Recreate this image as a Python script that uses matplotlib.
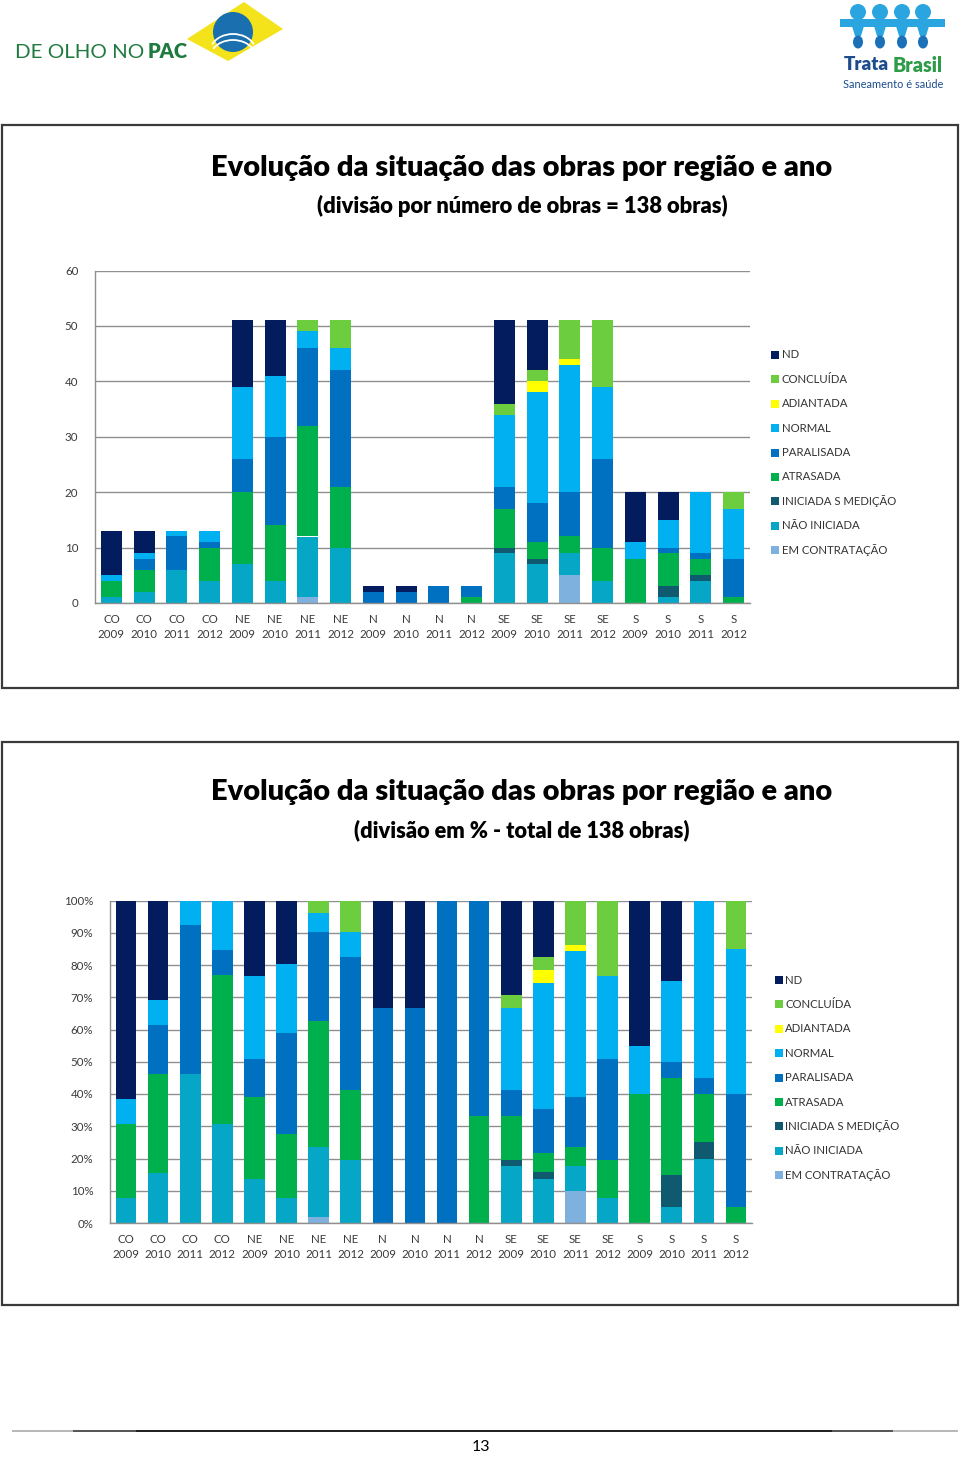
import matplotlib
matplotlib.use("Agg")
import matplotlib.pyplot as plt
import numpy as np
from matplotlib.patches import Rectangle, Polygon, Circle, Ellipse, Arc

# ---------------- data ----------------
categories = ["CO\n2009", "CO\n2010", "CO\n2011", "CO\n2012",
              "NE\n2009", "NE\n2010", "NE\n2011", "NE\n2012",
              "N\n2009", "N\n2010", "N\n2011", "N\n2012",
              "SE\n2009", "SE\n2010", "SE\n2011", "SE\n2012",
              "S\n2009", "S\n2010", "S\n2011", "S\n2012"]

# stacked bottom -> top
series_names = ["EM CONTRATAÇÃO", "NÃO INICIADA", "INICIADA S MEDIÇÃO", "ATRASADA",
                "PARALISADA", "NORMAL", "ADIANTADA", "CONCLUÍDA", "ND"]

em_contratacao = [0, 0, 0, 0, 0, 0, 1, 0, 0, 0, 0, 0, 0, 0, 5, 0, 0, 0, 0, 0]
nao_iniciada   = [1, 2, 6, 4, 7, 4, 11, 10, 0, 0, 0, 0, 9, 7, 4, 4, 0, 1, 4, 0]
iniciada_s_med = [0, 0, 0, 0, 0, 0, 0, 0, 0, 0, 0, 0, 1, 1, 0, 0, 0, 2, 1, 0]
atrasada       = [3, 4, 0, 6, 13, 10, 20, 11, 0, 0, 0, 1, 7, 3, 3, 6, 8, 6, 3, 1]
paralisada     = [0, 2, 6, 1, 6, 16, 14, 21, 2, 2, 3, 2, 4, 7, 8, 16, 0, 1, 1, 7]
normal         = [1, 1, 1, 2, 13, 11, 3, 4, 0, 0, 0, 0, 13, 20, 23, 13, 3, 5, 11, 9]
adiantada      = [0, 0, 0, 0, 0, 0, 0, 0, 0, 0, 0, 0, 0, 2, 1, 0, 0, 0, 0, 0]
concluida      = [0, 0, 0, 0, 0, 0, 2, 5, 0, 0, 0, 0, 2, 2, 7, 12, 0, 0, 0, 3]
nd             = [8, 4, 0, 0, 12, 10, 0, 0, 1, 1, 0, 0, 15, 9, 0, 0, 9, 5, 0, 0]

series_values = [em_contratacao, nao_iniciada, iniciada_s_med, atrasada,
                 paralisada, normal, adiantada, concluida, nd]

count_ticks = [0, 10, 20, 30, 40, 50, 60]
pct_ticks = [0, 10, 20, 30, 40, 50, 60, 70, 80, 90, 100]

colors = {
    "EM CONTRATAÇÃO": "#7fb1df",
    "NÃO INICIADA": "#06a7c6",
    "INICIADA S MEDIÇÃO": "#0f5a6e",
    "ATRASADA": "#00b04c",
    "PARALISADA": "#0070c0",
    "NORMAL": "#00b0f0",
    "ADIANTADA": "#ffff00",
    "CONCLUÍDA": "#6ccd3e",
    "ND": "#031c5e",
}

# ---------------- figure ----------------
W, H = 960, 1457
fig = plt.figure(figsize=(W / 100, H / 100), dpi=100)
fig.patch.set_facecolor("white")
bg = fig.add_axes([0, 0, 1, 1], zorder=0)
bg.set_xlim(0, W)
bg.set_ylim(H, 0)
bg.axis("off")

FONT = ["Lato", "DejaVu Sans"]
renderer = fig.canvas.get_renderer()


def fit_text(x, y, s, width, fs0=12, **kw):
    t = bg.text(x, y, s, fontsize=fs0, family=FONT, **kw)
    w = t.get_window_extent(renderer).width
    t.set_fontsize(fs0 * width / w)
    return t


def px_axes(left, top, right, bottom):
    return fig.add_axes([left / W, 1 - bottom / H, (right - left) / W, (bottom - top) / H], zorder=2)


# ---------- logos ----------
fit_text(15, 52, "DE OLHO NO", 128, color="#1f7a3f", va="center", ha="left")
fit_text(148, 52, "PAC", 40, color="#1f7a3f", va="center", ha="left", weight="heavy")
bg.add_patch(Polygon([(187, 39), (244, 2), (283, 29), (228, 61)], closed=True,
                     fc="#f4e21a", ec="none"))
bg.add_patch(Circle((233, 32), 20, fc="#1a6fae", ec="none"))
bg.add_patch(Arc((233, 52), 46, 36, theta1=200, theta2=340, color="white", lw=1.3))
bg.add_patch(Arc((233, 58), 46, 36, theta1=205, theta2=335, color="white", lw=1.3))

for cx in [858, 880, 902, 923]:
    bg.add_patch(Circle((cx, 12), 8, fc="#2aa5df", ec="none"))
    bg.add_patch(Polygon([(cx - 6, 26), (cx + 6, 26), (cx + 3, 36), (cx - 3, 36)],
                         closed=True, fc="#2aa5df", ec="none"))
    bg.add_patch(Ellipse((cx, 42), 10, 13, fc="#1b70b8", ec="none"))
bg.add_patch(Rectangle((840, 19), 105, 8, fc="#2aa5df", ec="none"))
fit_text(844, 65, "Trata", 45, color="#1c4c8c", va="center", ha="left", weight="heavy")
fit_text(893, 65, "Brasil", 50, color="#2d9b47", va="center", ha="left", weight="heavy")
fit_text(843, 84, "Saneamento é saúde", 100, color="#1c4c8c", va="center", ha="left")

# ---------- panel frames ----------
for top, bottom in [(125, 688), (742, 1305)]:
    bg.add_patch(Rectangle((2, top), 956, bottom - top, fill=False, ec="#3a3a3a", lw=1.6))

# ---------- titles ----------
title = "Evolução da situação das obras por região e ano"
fit_text(522, 168, title, 620, ha="center", va="center", weight="heavy", color="black")
fit_text(522, 206, "(divisão por número de obras = 138 obras)", 411,
         ha="center", va="center", weight="heavy", color="black")
fit_text(522, 792, title, 620, ha="center", va="center", weight="heavy", color="black")
fit_text(522, 830, "(divisão em % - total de 138 obras)", 335,
         ha="center", va="center", weight="heavy", color="black")

# ---------- charts ----------
x = np.arange(len(categories))
totals = np.sum(np.array(series_values, dtype=float), axis=0)


def style_axes(ax, ticks, labels, ymax):
    ax.set_xlim(-0.5, len(categories) - 0.5)
    ax.set_ylim(0, ymax)
    ax.set_yticks(ticks)
    ax.set_yticklabels(labels, family=FONT)
    ax.set_xticks(x)
    ax.set_xticklabels(categories, family=FONT, linespacing=1.45)
    ax.yaxis.grid(True, color="#8f8f8f", lw=1.0)
    ax.set_axisbelow(True)
    for s in ["top", "right"]:
        ax.spines[s].set_visible(False)
    for s in ["left", "bottom"]:
        ax.spines[s].set_color("#8f8f8f")
        ax.spines[s].set_linewidth(1.0)
    ax.tick_params(axis="both", length=0, colors="#3a3a3a", labelsize=8.3)
    ax.tick_params(axis="x", pad=8)
    ax.tick_params(axis="y", pad=12)


def draw_bars(ax, percent):
    bottom = np.zeros(len(categories))
    for name, vals in zip(series_names, series_values):
        v = np.array(vals, dtype=float)
        if percent:
            v = v / totals * 100
        ax.bar(x, v, width=0.64, bottom=bottom, color=colors[name], linewidth=0, zorder=2)
        bottom += v


def draw_legend(x0, y0, step, tx):
    for i, name in enumerate(reversed(series_names)):
        y = y0 + i * step
        bg.add_patch(Rectangle((x0, y - 4), 8, 8, fc=colors[name], ec="none"))
        bg.text(tx, y, name, fontsize=8.2, family=FONT, color="#333333",
                va="center", ha="left")


ax1 = px_axes(95, 270.5, 750, 603)
draw_bars(ax1, percent=False)
style_axes(ax1, count_ticks, [str(t) for t in count_ticks], 60)
draw_legend(771, 355, 24.4, 782)

ax2 = px_axes(110, 900.5, 752, 1223)
draw_bars(ax2, percent=True)
style_axes(ax2, pct_ticks, [f"{t}%" for t in pct_ticks], 100)
draw_legend(775, 980, 24.4, 785)

# ---------- footer ----------
bg.plot([13, 957], [1431, 1431], color="#b8b8b8", lw=1.4)
bg.plot([74, 892], [1431, 1431], color="#555555", lw=1.4)
bg.plot([137, 831], [1431, 1431], color="#222222", lw=1.4)
bg.text(481, 1447, "13", fontsize=11.5, family=FONT, color="black", ha="center", va="center")

fig.savefig("out.png", dpi=100)
